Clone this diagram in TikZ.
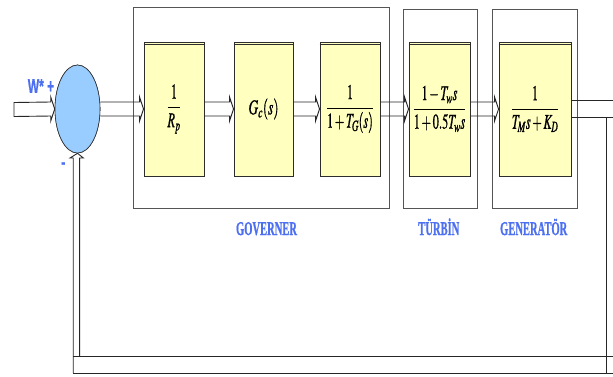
\documentclass[tikz,border=0pt]{standalone}
\usepackage{mathptmx}
\usepackage[no-math]{fontspec}
\newfontfamily\captionface{Liberation Serif Bold}[FakeBold=1.2]
\newfontfamily\signface{Liberation Sans Bold}[FakeBold=0.8]
\usetikzlibrary{calc,shapes.geometric}

\definecolor{blockfill}{RGB}{255,255,192}
\definecolor{sumfill}{RGB}{153,204,255}
\definecolor{labelblue}{RGB}{77,112,240}
\definecolor{edgegray}{RGB}{45,45,45}
\definecolor{framegray}{RGB}{85,85,85}

\tikzset{
  block/.style={draw=edgegray, line width=0.9pt, fill=blockfill,
    minimum height=134pt, inner sep=0pt, font=\fontsize{21}{25}\selectfont},
  frame/.style={draw=framegray, line width=0.9pt, inner sep=0pt},
  pipe/.style={draw=black!85, line width=0.9pt, line join=miter},
  sumnode/.style={ellipse, draw=edgegray, line width=0.6pt, fill=sumfill,
    minimum width=45pt, minimum height=88pt, inner sep=0pt},
  caption/.style={text=labelblue, anchor=base, inner sep=0pt,
    font=\captionface\fontsize{19.5}{20}\selectfont},
  sign/.style={text=labelblue, inner sep=0pt,
    font=\signface\fontsize{20}{22}\selectfont}
}
% horizontally condensed text
\newcommand\narrow[2][0.58]{\scalebox{#1}[1]{#2}}
% slightly heavier glyphs: fill and stroke the outlines
\newcommand\heavy[1]{\special{pdf:literal direct 2 Tr 0.25 w}#1\special{pdf:literal direct 0 Tr}}
% hollow double-line arrow from the east side of #1 to the west side of #2
\newcommand\pipeto[2]{%
  \draw[pipe] ([yshift=7pt]#1.east) -- ([xshift=-4pt,yshift=7pt]#2.west)
    -- ([xshift=-4pt,yshift=12pt]#2.west) -- (#2.west)
    -- ([xshift=-4pt,yshift=-12pt]#2.west) -- ([xshift=-4pt,yshift=-7pt]#2.west)
    -- ([yshift=-7pt]#1.east);}

\begin{document}
\begin{tikzpicture}[x=1pt,y=-1pt]
\clip (0,0) rectangle (613,376);
\fill[white] (0,0) rectangle (613,376);

% subsystem frames
\node[frame, minimum width=256pt, minimum height=201pt] (govframe) at (261,107.5) {};
\node[frame, minimum width=74pt, minimum height=199pt] (turbframe) at (440,108.5) {};
\node[frame, minimum width=85pt, minimum height=199pt] (genframe) at (534.5,108.5) {};

% transfer-function blocks
\node[block, minimum width=60pt] (droop) at (174,109) {\heavy{\narrow{$\displaystyle\frac{1}{R_p}$}}};
\node[block, minimum width=59pt] (ctrl) at (263.5,109) {\heavy{\narrow[0.64]{$G_c(s)$}}};
\node[block, minimum width=60pt] (gov) at (350,109) {\heavy{\narrow{$\displaystyle\frac{1}{1+T_G(s)}$}}};
\node[block, minimum width=61pt] (turb) at (439.5,109) {\heavy{\narrow{$\displaystyle\frac{1-T_w s}{1+0.5T_w s}$}}};
\node[block, minimum width=72pt] (gen) at (535,109) {\heavy{\narrow{$\displaystyle\frac{1}{T_M s+K_D}$}}};
\foreach \b in {droop,ctrl,gov,turb,gen}
  \draw[edgegray, line width=0.7pt] ([yshift=-3pt]\b.north west) -- ([yshift=-3pt]\b.north east);

% summing junction
\node[sumnode] (sum) at (77.5,109) {};

% reference input
\coordinate (ref) at (14,109.5);
\draw[pipe] ([yshift=7pt]ref) -- ([xshift=-4pt,yshift=7pt]sum.west)
  -- ([xshift=-4pt,yshift=12pt]sum.west) -- (sum.west)
  -- ([xshift=-4pt,yshift=-12pt]sum.west) -- ([xshift=-4pt,yshift=-7pt]sum.west)
  -- ([yshift=-7pt]ref) -- cycle;

% forward path
\pipeto{sum}{droop}
\pipeto{droop}{ctrl}
\pipeto{ctrl}{gov}
\pipeto{gov}{turb}
\pipeto{turb}{gen}

% output and feedback path
\draw[pipe] ([yshift=9pt]gen.east) -- ++(42,0);
\draw[pipe] ([yshift=-8pt]gen.east) -- ++(42,0);
\draw[pipe] (606,117) -- (606,373);
\draw[pipe] (73,356) -- (614,356);
\draw[pipe] (73,373) -- (614,373);
\draw[pipe] (73.2,373) -- (73.2,158) -- (70,158) -- (sum.south) -- (83.4,158) -- (79.6,158) -- (79.6,356);
\node[sumnode] at (sum) {};

% signs and captions
\node[sign] (plus) at (41,86) {\narrow[0.6]{W* +}};
\node[sign] (minus) at (63.3,165.5) {\narrow[0.6]{-}};
\node[caption] (govlabel) at (266.5,235) {\narrow[0.54]{GOVERNER}};
\node[caption] (turblabel) at (438.8,235) {\narrow[0.54]{TÜRBİN}};
\node[caption] (genlabel) at (533.7,235) {\narrow[0.54]{GENERATÖR}};
\end{tikzpicture}
\end{document}
